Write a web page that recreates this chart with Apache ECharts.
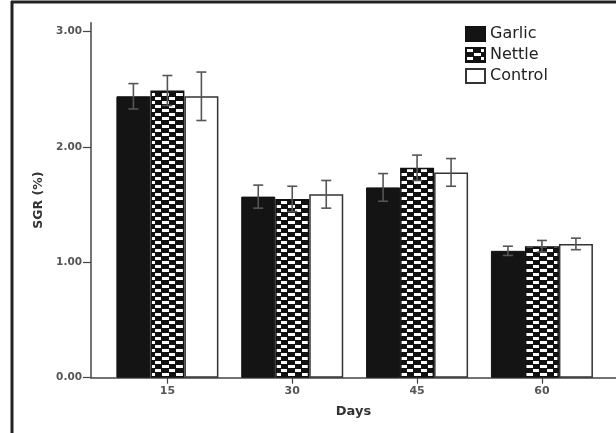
<!DOCTYPE html>
<html>
<head>
<meta charset="utf-8">
<script src="https://cdn.jsdelivr.net/npm/echarts@6/dist/echarts.min.js"></script>
<style>
html,body{margin:0;padding:0;background:#fff;}
#c{width:616px;height:433px;}
</style>
</head>
<body>
<div id="c"></div>
<script>
var days = [15, 30, 45, 60];
var seriesNames = ['Garlic', 'Nettle', 'Control'];
var garlic = [2.44, 1.57, 1.65, 1.10];
var nettle = [2.49, 1.55, 1.82, 1.14];
var control = [2.44, 1.59, 1.78, 1.16];
var garlicErr = [0.11, 0.10, 0.12, 0.04];
var nettleErr = [0.13, 0.11, 0.11, 0.05];
var controlErr = [0.21, 0.12, 0.12, 0.05];
var yTicks = [0, 1, 2, 3];

var BAR_W = 34;

// checkered pattern for Nettle
var pc = document.createElement('canvas');
pc.width = 14; pc.height = 8;
var g = pc.getContext('2d');
g.fillStyle = '#111';
g.fillRect(0, 0, 14, 8);
g.fillStyle = '#fff';
g.fillRect(1, 1, 6, 3);
g.fillRect(8, 5, 6, 3);
g.fillRect(0, 5, 1, 3);

var means = [garlic, nettle, control];
var errs = [garlicErr, nettleErr, controlErr];
var errData = [];
for (var s = 0; s < 3; s++) {
  for (var i = 0; i < days.length; i++) {
    errData.push([days[i], means[s][i] - errs[s][i], means[s][i] + errs[s][i], s]);
  }
}

function barData(arr) {
  return days.map(function (d, i) { return [d, arr[i]]; });
}

var chart = echarts.init(document.getElementById('c'), null, {renderer: 'canvas'});
var labelFont = 'DejaVu Sans';
chart.setOption({
  animation: false,
  backgroundColor: '#fff',
  grid: {left: 91, right: 0, top: 22.7, bottom: 55.3},
  legend: {
    orient: 'vertical',
    left: 465,
    top: 26,
    padding: 0,
    itemWidth: 19,
    itemHeight: 14,
    itemGap: 5,
    icon: 'rect',
    selectedMode: false,
    data: seriesNames,
    textStyle: {fontFamily: labelFont, fontSize: 16, color: '#222'}
  },
  xAxis: {
    type: 'value',
    min: 5.82,
    max: 68.9,
    splitLine: {show: false},
    axisLine: {show: true, lineStyle: {color: '#444', width: 1.5}},
    axisTick: {show: true, length: 6, customValues: days, lineStyle: {color: '#444', width: 1.2}},
    axisLabel: {customValues: days, margin: 8, fontFamily: labelFont, fontSize: 11, fontWeight: 'bold', color: '#555'},
    name: 'Days',
    nameLocation: 'middle',
    nameGap: 27,
    nameTextStyle: {fontFamily: labelFont, fontSize: 13, fontWeight: 'bold', color: '#333'}
  },
  yAxis: {
    type: 'value',
    min: 0,
    max: 3.078,
    splitLine: {show: false},
    axisLine: {show: true, lineStyle: {color: '#444', width: 1.5}},
    axisTick: {show: true, length: 8, customValues: yTicks, lineStyle: {color: '#444', width: 1.2}},
    axisLabel: {customValues: yTicks, margin: 9, fontFamily: labelFont, fontSize: 10.5, fontWeight: 'bold', color: '#555',
      formatter: function (v) { return v.toFixed(2); }},
    name: 'SGR (%)',
    nameLocation: 'middle',
    nameRotate: 90,
    nameGap: 44,
    nameTextStyle: {fontFamily: labelFont, fontSize: 12.5, fontWeight: 'bold', color: '#333'}
  },
  series: [
    {
      name: 'Garlic', type: 'bar', barWidth: BAR_W, barGap: '0%',
      data: barData(garlic),
      itemStyle: {color: '#141414', borderColor: '#111', borderWidth: 1}
    },
    {
      name: 'Nettle', type: 'bar', barWidth: BAR_W, barGap: '0%',
      data: barData(nettle),
      itemStyle: {color: {image: pc, repeat: 'repeat'}, borderColor: '#111', borderWidth: 1.5}
    },
    {
      name: 'Control', type: 'bar', barWidth: BAR_W, barGap: '0%',
      data: barData(control),
      itemStyle: {color: '#fff', borderColor: '#333', borderWidth: 1.5}
    },
    {
      type: 'custom',
      name: 'err',
      z: 10,
      encode: {x: 0, y: [1, 2]},
      data: errData,
      renderItem: function (params, api) {
        var x = api.value(0);
        var lo = api.coord([x, api.value(1)]);
        var hi = api.coord([x, api.value(2)]);
        var dx = (api.value(3) - 1) * BAR_W;
        var cx = hi[0] + dx;
        var cap = 5;
        var st = {stroke: '#555', lineWidth: 1.6};
        return {
          type: 'group',
          children: [
            {type: 'line', shape: {x1: cx, y1: hi[1], x2: cx, y2: lo[1]}, style: st},
            {type: 'line', shape: {x1: cx - cap, y1: hi[1], x2: cx + cap, y2: hi[1]}, style: st},
            {type: 'line', shape: {x1: cx - cap, y1: lo[1], x2: cx + cap, y2: lo[1]}, style: st}
          ]
        };
      }
    }
  ],
  graphic: [
    {type: 'line', shape: {x1: 11, y1: 2, x2: 616, y2: 2}, style: {stroke: '#222', lineWidth: 3}, z: 100},
    {type: 'line', shape: {x1: 12, y1: 1, x2: 12, y2: 433}, style: {stroke: '#222', lineWidth: 3}, z: 100}
  ]
});
</script>
</body>
</html>
